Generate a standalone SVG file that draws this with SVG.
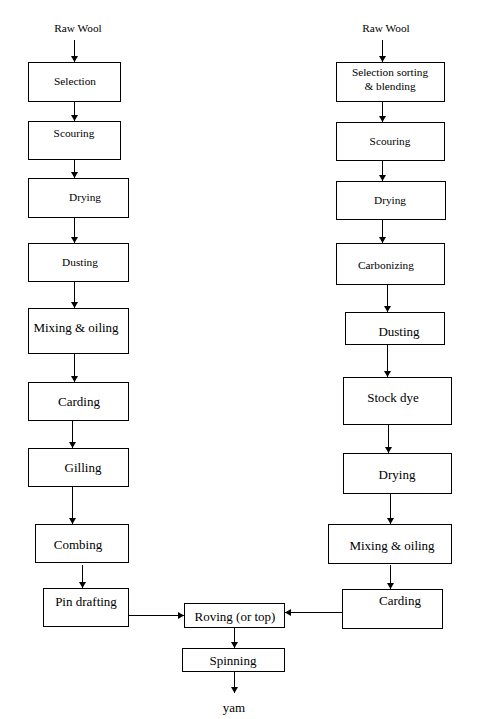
<svg xmlns="http://www.w3.org/2000/svg" width="477" height="719" viewBox="0 0 477 719" font-family="'Liberation Serif', 'Times New Roman', 'DejaVu Serif', serif">
<defs>
<style>
.box{fill:#fff;stroke:#000;stroke-width:1}
.s{font-family:'Liberation Serif','Times New Roman','DejaVu Serif',serif;font-size:11.3px;fill:#000;text-anchor:middle}
.b{font-family:'Liberation Serif','Times New Roman','DejaVu Serif',serif;font-size:13px;fill:#000;text-anchor:middle}
.c{stroke:#000;stroke-width:1;fill:none;marker-end:url(#ah)}
</style>
<marker id="ah" markerWidth="6" markerHeight="7" refX="6" refY="3.5" orient="auto" markerUnits="userSpaceOnUse">
<path d="M0,0 L6,3.5 L0,7 Z" fill="#000"/>
</marker>
</defs>
<rect width="477" height="719" fill="#fff"/>
<g id="connectors">
<line class="c" x1="74.5" y1="40" x2="74.5" y2="62"/>
<line class="c" x1="74.5" y1="101" x2="74.5" y2="121"/>
<line class="c" x1="74.5" y1="159" x2="74.5" y2="178"/>
<line class="c" x1="74.5" y1="217" x2="74.5" y2="243"/>
<line class="c" x1="74.5" y1="281" x2="74.5" y2="308"/>
<line class="c" x1="74.5" y1="353" x2="74.5" y2="382"/>
<line class="c" x1="72.5" y1="421" x2="72.5" y2="448"/>
<line class="c" x1="72.5" y1="486" x2="72.5" y2="524"/>
<line class="c" x1="82.5" y1="565" x2="82.5" y2="588"/>
<line class="c" x1="128" y1="615.5" x2="184" y2="615.5"/>
<line class="c" x1="234.5" y1="627" x2="234.5" y2="648"/>
<line class="c" x1="234.5" y1="671" x2="234.5" y2="693"/>
<line class="c" x1="382.5" y1="40" x2="382.5" y2="62"/>
<line class="c" x1="382.5" y1="101" x2="382.5" y2="122"/>
<line class="c" x1="382.5" y1="160" x2="382.5" y2="181"/>
<line class="c" x1="382.5" y1="219" x2="382.5" y2="243"/>
<line class="c" x1="387.5" y1="281" x2="387.5" y2="312"/>
<line class="c" x1="387.5" y1="344" x2="387.5" y2="377"/>
<line class="c" x1="388.5" y1="424" x2="388.5" y2="453"/>
<line class="c" x1="390.5" y1="493" x2="390.5" y2="524"/>
<line class="c" x1="390.5" y1="565" x2="390.5" y2="589"/>
<line class="c" x1="343" y1="612.5" x2="285" y2="612.5"/>
</g>
<g id="rawwool-left"><text class="s" x="78" y="32">Raw Wool</text></g>
<g id="selection"><rect class="box" x="28.5" y="62.5" width="92" height="39"/><text class="s" x="75" y="85">Selection</text></g>
<g id="scouring-left"><rect class="box" x="28.5" y="121.5" width="92" height="38"/><text class="s" x="74" y="137">Scouring</text></g>
<g id="drying-left"><rect class="box" x="28.5" y="178.5" width="100" height="39"/><text class="s" x="85" y="201">Drying</text></g>
<g id="dusting-left"><rect class="box" x="28.5" y="243.5" width="100" height="38"/><text class="s" x="80" y="266">Dusting</text></g>
<g id="mixing-left"><rect class="box" x="28.5" y="308.5" width="100" height="45"/><text class="b" x="76" y="331.5">Mixing &amp; oiling</text></g>
<g id="carding-left"><rect class="box" x="28.5" y="382.5" width="100" height="38"/><text class="b" x="79" y="405.5">Carding</text></g>
<g id="gilling"><rect class="box" x="28.5" y="448.5" width="100" height="38"/><text class="b" x="83" y="472">Gilling</text></g>
<g id="combing"><rect class="box" x="35.5" y="524.5" width="93" height="38"/><text class="b" x="78" y="548.5">Combing</text></g>
<g id="pindrafting"><rect class="box" x="43.5" y="588.5" width="85" height="38"/><text class="b" x="86" y="605.5">Pin drafting</text></g>
<g id="roving"><rect class="box" x="184.5" y="603.5" width="100" height="24"/><text class="b" x="235" y="620.5">Roving (or top)</text></g>
<g id="spinning"><rect class="box" x="182.5" y="648.5" width="102" height="23"/><text class="b" x="233" y="664.5">Spinning</text></g>
<g id="yarn"><text class="b" x="234" y="712">yam</text></g>
<g id="rawwool-right"><text class="s" x="386" y="32">Raw Wool</text></g>
<g id="selection-sorting"><rect class="box" x="336.5" y="62.5" width="108" height="39"/><text class="s" x="390" y="76">Selection sorting</text><text class="s" x="390" y="90">&amp; blending</text></g>
<g id="scouring-right"><rect class="box" x="336.5" y="122.5" width="108" height="38"/><text class="s" x="390" y="145">Scouring</text></g>
<g id="drying-right"><rect class="box" x="336.5" y="181.5" width="109" height="38"/><text class="s" x="390" y="204">Drying</text></g>
<g id="carbonizing"><rect class="box" x="336.5" y="243.5" width="108" height="41"/><text class="s" x="386" y="269">Carbonizing</text></g>
<g id="dusting-right"><rect class="box" x="345.5" y="312.5" width="99" height="32"/><text class="b" x="399" y="335.5">Dusting</text></g>
<g id="stockdye"><rect class="box" x="343.5" y="377.5" width="108" height="47"/><text class="b" x="393" y="401.5">Stock dye</text></g>
<g id="drying2-right"><rect class="box" x="343.5" y="453.5" width="108" height="40"/><text class="b" x="397" y="478.5">Drying</text></g>
<g id="mixing-right"><rect class="box" x="328.5" y="524.5" width="123" height="39"/><text class="b" x="392" y="549.5">Mixing &amp; oiling</text></g>
<g id="carding-right"><rect class="box" x="342.5" y="589.5" width="100" height="39"/><text class="b" x="400" y="604.5">Carding</text></g>
</svg>
